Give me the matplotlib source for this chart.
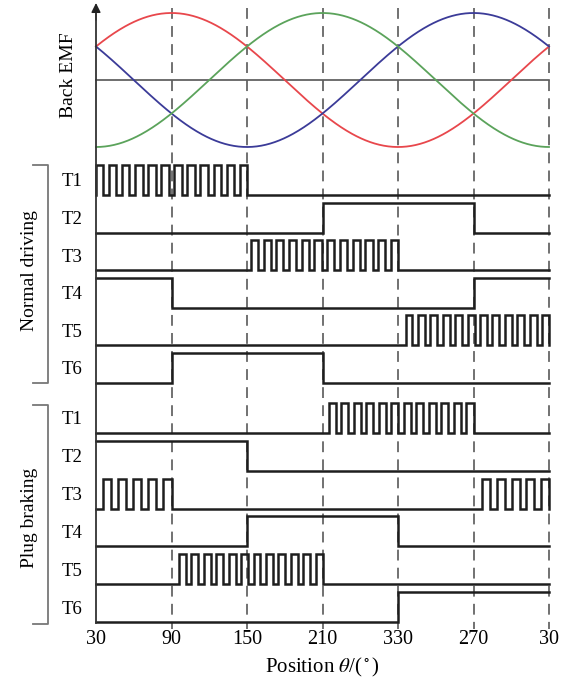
import numpy as np
import matplotlib
matplotlib.use("Agg")
import matplotlib.pyplot as plt

plt.rcParams["font.family"] = ["Liberation Serif", "DejaVu Serif"]
plt.rcParams["mathtext.fontset"] = "stix"

# rotor position (electrical degrees) and the tick labels printed under the axis
tick_pos = [30, 90, 150, 210, 270, 330, 390]
tick_labels = ["30", "90", "150", "210", "330", "270", "30"]

# back-EMF phases: colour and phase shift in degrees
emf_colors = ["#e8474c", "#3b3b98", "#5ba35b"]
emf_shift = [0, 120, -120]

# switch signals: (start, end, level, pwm pulses); pulses > 0 means chopped
normal_T1 = [(30, 150, 1, 12), (150, 390, 0, 0)]
normal_T2 = [(30, 210, 0, 0), (210, 330, 1, 0), (330, 390, 0, 0)]
normal_T3 = [(30, 153, 0, 0), (153, 270, 1, 12), (270, 390, 0, 0)]
normal_T4 = [(30, 90, 1, 0), (90, 330, 0, 0), (330, 390, 1, 0)]
normal_T5 = [(30, 276, 0, 0), (276, 390, 1, 12)]
normal_T6 = [(30, 90, 0, 0), (90, 210, 1, 0), (210, 390, 0, 0)]

plug_T1 = [(30, 215, 0, 0), (215, 330, 1, 12), (330, 390, 0, 0)]
plug_T2 = [(30, 150, 1, 0), (150, 390, 0, 0)]
plug_T3 = [(30, 35.5, 0, 0), (35.5, 90, 1, 5), (90, 337, 0, 0), (337, 390, 1, 5)]
plug_T4 = [(30, 150, 0, 0), (150, 270, 1, 0), (270, 390, 0, 0)]
plug_T5 = [(30, 96, 0, 0), (96, 210, 1, 12), (210, 390, 0, 0)]
plug_T6 = [(30, 270, 0, 0), (270, 390, 1, 0)]

names = ["T1", "T2", "T3", "T4", "T5", "T6"]
normal_rows = [normal_T1, normal_T2, normal_T3, normal_T4, normal_T5, normal_T6]
plug_rows = [plug_T1, plug_T2, plug_T3, plug_T4, plug_T5, plug_T6]


def waveform(segments, duty=0.56):
    xs, ys = [], []
    for start, end, level, pulses in segments:
        if pulses == 0:
            xs += [start, end]
            ys += [level, level]
            continue
        period = (end - start) / (pulses - 1 + duty)
        for k in range(pulses):
            rise = start + k * period
            fall = rise + duty * period
            xs += [rise, rise, fall, fall]
            ys += [0, 1, 1, 0]
    return np.array(xs), np.array(ys)


W, H = 565, 686
fig = plt.figure(figsize=(W / 100, H / 100), dpi=100)
ax = fig.add_axes([0, 0, 1, 1])
# horizontal scale: 30 deg sits at x=96, 390 deg at x=549; vertical in pixels from the top
k = (549 - 96) / 360
ax.set_xlim(30 - 96 / k, 390 + (W - 549) / k)
ax.set_ylim(H, 0)
ax.axis("off")

sig_color = "#1e1e1e"
amp = 30

# back EMF
emf_mid, emf_amp = 80, 67
theta = np.linspace(30, 390, 500)
for c, s in zip(emf_colors, emf_shift):
    ax.plot(theta, emf_mid - emf_amp * np.sin(np.radians(theta + s)), color=c, lw=1.3, zorder=3)
ax.plot([30, 390], [emf_mid, emf_mid], color="#555555", lw=1.2, zorder=2)

# position grid
for p in tick_pos[1:]:
    ax.plot([p, p], [8, 629], color="#666666", lw=1.3, dashes=(6, 4), zorder=1)

# vertical axis with arrow
ax.plot([30, 30], [623, 14], color="#333333", lw=1.3, zorder=4)
ax.annotate("", xy=(30, 3), xytext=(30, 20),
            arrowprops=dict(arrowstyle="-|>", color="#222222", lw=1.0,
                            mutation_scale=14, shrinkA=0, shrinkB=0))
ax.text(30 - 28 / k, 75, "Back EMF", rotation=90, ha="center", va="center", fontsize=14)


def draw_group(rows, base0, pitch, label, label_y, top, bottom):
    for i, (name, seg) in enumerate(zip(names, rows)):
        base = base0 + pitch * i
        xs, ys = waveform(seg)
        ax.plot(xs, base - amp * ys, color=sig_color, lw=1.8, solid_joinstyle="miter", zorder=3)
        ax.text(30 - 24 / k, base - amp / 2 + 2, name, ha="center", va="center", fontsize=13.5)
    bx = 30 - 48 / k
    ax.plot([30 - 63 / k, bx, bx, 30 - 63 / k], [top, top, bottom, bottom],
            color="#777777", lw=1.3, zorder=2)
    ax.text(30 - 66 / k, label_y, label, rotation=90, ha="center", va="center", fontsize=14)


draw_group(normal_rows, 195, 37.6, "Normal driving", 271, 165, 383)
draw_group(plug_rows, 433, 37.8, "Plug braking", 518, 405, 624)

for p, lab in zip(tick_pos, tick_labels):
    ax.text(p, 639, lab, ha="center", va="center", fontsize=14.5)
ax.text(210, 667, r"Position $\theta$/($^\circ$)", ha="center", va="center", fontsize=15)

fig.savefig("out.png", dpi=100, facecolor="white")
